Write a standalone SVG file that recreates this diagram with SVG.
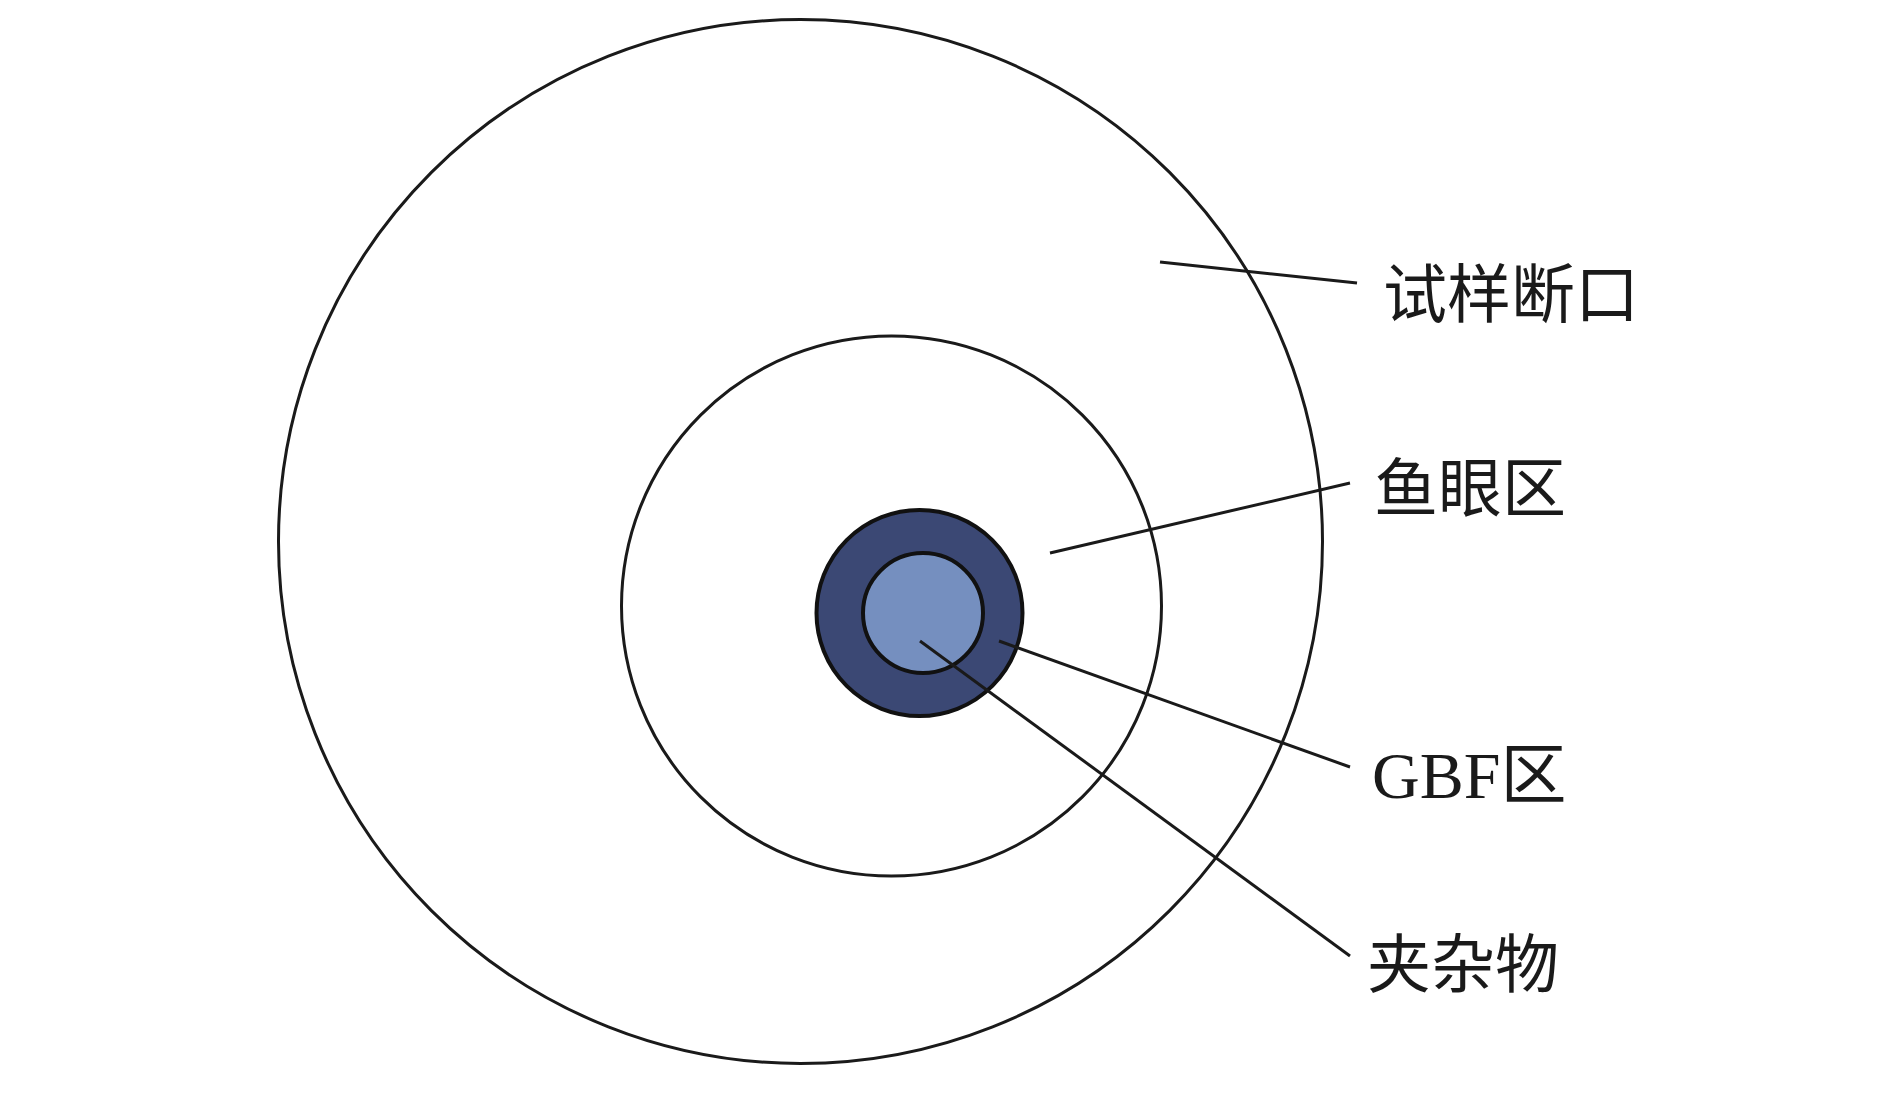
<svg xmlns="http://www.w3.org/2000/svg" width="1890" height="1095" viewBox="0 0 1890 1095">
<style>
.ring{fill:none;stroke:#1a1a1a;stroke-width:3}
.lead{stroke:#1a1a1a;stroke-width:3;fill:none}
.lbl{font-family:"Liberation Serif","Noto Sans CJK SC",serif;font-size:64px;fill:#1a1a1a}
</style>
<rect width="1890" height="1095" fill="#ffffff"/>
<g id="sample-fracture">
<circle class="ring" cx="800.5" cy="541.5" r="522"/>
<text class="lbl" x="1383" y="317">试样断口</text>
</g>
<g id="fisheye">
<circle class="ring" cx="891.5" cy="606" r="270"/>
<text class="lbl" x="1374" y="511">鱼眼区</text>
</g>
<g id="gbf">
<circle cx="919.5" cy="613" r="103" fill="#3b4874" stroke="#111" stroke-width="4"/>
<text class="lbl" x="1372" y="798" style="font-size:66px">GBF区</text>
</g>
<g id="inclusion">
<circle cx="923" cy="613" r="60" fill="#758fbf" stroke="#111" stroke-width="4"/>
<text class="lbl" x="1367" y="987">夹杂物</text>
</g>
<g id="connectors">
<line class="lead" x1="1160" y1="262" x2="1357" y2="283"/>
<line class="lead" x1="1050" y1="553" x2="1350" y2="483"/>
<line class="lead" x1="999" y1="641" x2="1350" y2="767"/>
<line class="lead" x1="920" y1="641" x2="1350" y2="956"/>
</g>
</svg>
